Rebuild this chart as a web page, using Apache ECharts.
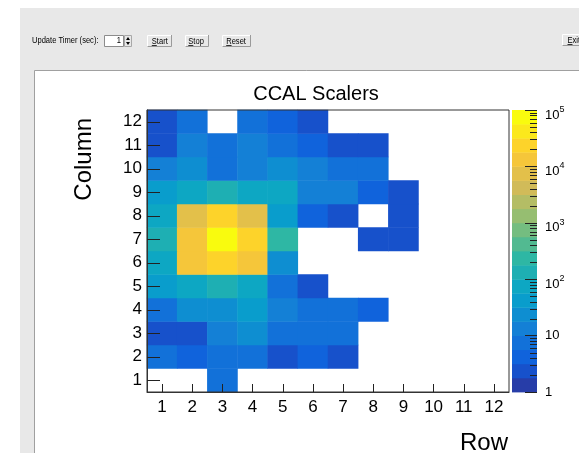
<!DOCTYPE html>
<html>
<head>
<meta charset="utf-8">
<title>CCAL Scalers</title>
<script src="https://cdn.jsdelivr.net/npm/echarts@6/dist/echarts.min.js"></script>
<style>
  html, body { margin: 0; padding: 0; background: #fff; }
  #chart { width: 579px; height: 453px; }
</style>
</head>
<body>
<div id="chart"></div>
<script>
// Axis categories
const rowLabels = ['1', '2', '3', '4', '5', '6', '7', '8', '9', '10', '11', '12'];
const columnLabels = ['1', '2', '3', '4', '5', '6', '7', '8', '9', '10', '11', '12'];

// Scaler counts per column, one entry per row 1..12 (0 = empty bin)
const column1  = [0, 0, 7, 0, 0, 0, 0, 0, 0, 0, 0, 0];
const column2  = [8, 5, 7, 8, 3, 4, 2, 0, 0, 0, 0, 0];
const column3  = [3, 2, 14, 23, 8, 7, 9, 0, 0, 0, 0, 0];
const column4  = [7, 22, 25, 41, 15, 8, 7, 5, 0, 0, 0, 0];
const column5  = [47, 69, 151, 77, 7, 2, 0, 0, 0, 0, 0, 0];
const column6  = [84, 13600, 24800, 12900, 27, 0, 0, 0, 0, 0, 0, 0];
const column7  = [126, 14800, 79000, 22300, 236, 0, 0, 3, 2, 0, 0, 0];
const column8  = [71, 8200, 26500, 7600, 45, 5, 3, 0, 2, 0, 0, 0];
const column9  = [38, 64, 142, 81, 88, 14, 12, 5, 2, 0, 0, 0];
const column10 = [12, 21, 8, 15, 26, 13, 7, 8, 0, 0, 0, 0];
const column11 = [3, 14, 7, 12, 8, 4, 2, 3, 0, 0, 0, 0];
const column12 = [2, 8, 0, 7, 5, 3, 0, 0, 0, 0, 0, 0];

// Colour scale: range and number of contour levels
const zMin = 1;
const zMax = 100000;
const nContours = 20;

// "Bird" palette stops
const birdStops = [0.0000, 0.1250, 0.2500, 0.3750, 0.5000, 0.6250, 0.7500, 0.8750, 1.0000];
const birdRed   = [0.2082, 0.0592, 0.0780, 0.0232, 0.1802, 0.5301, 0.8186, 0.9956, 0.9764];
const birdGreen = [0.1664, 0.3599, 0.5041, 0.6419, 0.7178, 0.7492, 0.7328, 0.7862, 0.9832];
const birdBlue  = [0.5293, 0.8684, 0.8385, 0.7914, 0.6425, 0.4662, 0.3499, 0.1968, 0.0539];

function birdColor(t) {
  let i = 0;
  while (i < birdStops.length - 2 && t > birdStops[i + 1]) i++;
  const f = (t - birdStops[i]) / (birdStops[i + 1] - birdStops[i]);
  const mix = (a) => Math.round(255 * (a[i] + (a[i + 1] - a[i]) * f));
  return 'rgb(' + mix(birdRed) + ',' + mix(birdGreen) + ',' + mix(birdBlue) + ')';
}

// One colour per contour level, picked from a 255-colour gradient table
const logMin = Math.log10(zMin);
const logMax = Math.log10(zMax);
const step = (logMax - logMin) / nContours;
const bands = [];
for (let k = 0; k < nContours; k++) {
  const idx = Math.floor((k + 0.99) * 255 / nContours);
  bands.push({
    lo: Math.pow(10, logMin + k * step),
    hi: Math.pow(10, logMin + (k + 1) * step),
    color: birdColor(Math.min(1, idx / 254))
  });
}

// Log-axis minor tick positions (2..9 in each decade)
const minorTicks = [];
for (let d = zMin; d < zMax; d *= 10) {
  for (let m = 2; m <= 9; m++) minorTicks.push([1, m * d]);
}

const columns = [column1, column2, column3, column4, column5, column6,
                 column7, column8, column9, column10, column11, column12];
const cells = [];
columns.forEach((col, c) => {
  col.forEach((v, r) => { if (v > 0) cells.push([r, c, v]); });
});

const FONT = 'Liberation Sans';
const GUI_BG = '#e8e8e8';

function button(x, y, w, h, label, textX, ulWidth) {
  return [
    { type: 'rect', shape: { x: x, y: y, width: w, height: h }, style: { fill: GUI_BG } },
    { type: 'polyline', shape: { points: [[x + 0.5, y + h], [x + 0.5, y + 0.5], [x + w, y + 0.5]] },
      style: { stroke: '#ffffff', lineWidth: 1, fill: null } },
    { type: 'polyline', shape: { points: [[x + 0.5, y + h - 0.5], [x + w - 0.5, y + h - 0.5], [x + w - 0.5, y]] },
      style: { stroke: '#9a9a9a', lineWidth: 1, fill: null } },
    { type: 'text', x: textX, y: y + h / 2 + 0.5, scaleX: 0.84,
      style: { text: label, fontSize: 9, fontFamily: FONT, fill: '#000', align: 'left', verticalAlign: 'middle' } },
    { type: 'line', shape: { x1: textX, y1: y + h - 1.5, x2: textX + ulWidth, y2: y + h - 1.5 },
      style: { stroke: '#000', lineWidth: 0.8 } }
  ];
}

const guiElements = [
  { type: 'rect', shape: { x: 20, y: 8, width: 559, height: 445 }, style: { fill: GUI_BG } },
  { type: 'rect', shape: { x: 35, y: 71, width: 544, height: 382 }, style: { fill: '#ffffff' } },
  { type: 'line', shape: { x1: 34.5, y1: 70.5, x2: 579, y2: 70.5 }, style: { stroke: '#a0a0a0', lineWidth: 1 } },
  { type: 'line', shape: { x1: 34.5, y1: 70.5, x2: 34.5, y2: 453 }, style: { stroke: '#a0a0a0', lineWidth: 1 } },
  { type: 'text', x: 32, y: 41, scaleX: 0.84,
    style: { text: 'Update Timer (sec):', fontSize: 9, fontFamily: FONT, fill: '#000', verticalAlign: 'middle' } },
  { type: 'rect', shape: { x: 104.5, y: 35.5, width: 19, height: 11 },
    style: { fill: '#ffffff', stroke: '#8c8c8c', lineWidth: 1 } },
  { type: 'text', x: 121, y: 41, scaleX: 0.84,
    style: { text: '1', fontSize: 9, fontFamily: FONT, fill: '#000', align: 'right', verticalAlign: 'middle' } },
  { type: 'rect', shape: { x: 124.5, y: 35.5, width: 7, height: 11 },
    style: { fill: GUI_BG, stroke: '#a8a8a8', lineWidth: 1 } },
  { type: 'polygon', shape: { points: [[128, 37], [126, 40], [130, 40]] }, style: { fill: '#000' } },
  { type: 'polygon', shape: { points: [[126, 42], [130, 42], [128, 45]] }, style: { fill: '#000' } }
]
  .concat(button(147, 35, 25, 12, 'Start', 151.8, 5))
  .concat(button(185, 35, 24, 12, 'Stop', 188.3, 5))
  .concat(button(222, 35, 29, 12, 'Reset', 226.2, 5.4))
  .concat(button(562, 34, 30, 12, 'Exit', 567.5, 5));

// Colour bar labels: plain "1" and "10", then 10 with a raised exponent
function colorbarLabel(v) {
  const e = Math.round(Math.log10(v));
  if (e === 0) return '{p|1}';
  if (e === 1) return '{p|10}';
  return '{e|10}{s|' + e + '}';
}

const option = {
  backgroundColor: '#ffffff',
  animation: false,
  textStyle: { fontFamily: FONT },
  title: {
    text: 'CCAL Scalers',
    left: 311,
    textAlign: 'center',
    top: 79,
    textStyle: { fontSize: 20, fontWeight: 'normal', color: '#000', fontFamily: FONT }
  },
  graphic: { elements: guiElements.concat([
    { type: 'text', x: 84, y: 118, rotation: Math.PI / 2,
      style: { text: 'Column', fontSize: 24, fontFamily: FONT, fill: '#000', align: 'right', verticalAlign: 'middle' } },
    { type: 'text', x: 508, y: 443.5,
      style: { text: 'Row', fontSize: 24, fontFamily: FONT, fill: '#000', align: 'right', verticalAlign: 'middle' } }
  ]) },
  grid: [
    { left: 147, top: 110, width: 362, height: 282, show: true, z: 3,
      borderColor: '#333', borderWidth: 1, backgroundColor: 'transparent' },
    { left: 512, top: 110, width: 25, height: 282 }
  ],
  xAxis: [
    {
      type: 'category', gridIndex: 0, data: rowLabels, z: 4,
      axisLine: { show: true, lineStyle: { color: '#333' } },
      axisTick: { show: true, inside: true, alignWithLabel: true, interval: 0, length: 8, lineStyle: { color: '#222' } },
      axisLabel: { interval: 0, fontSize: 17, color: '#000', margin: 7, fontFamily: FONT },
      splitLine: { show: false }
    },
    { type: 'value', gridIndex: 1, min: 0, max: 1, show: false }
  ],
  yAxis: [
    {
      type: 'category', gridIndex: 0, data: columnLabels, z: 4,
      axisLine: { show: true, lineStyle: { color: '#333' } },
      axisTick: { show: true, inside: true, alignWithLabel: true, interval: 0, length: 13, lineStyle: { color: '#222' } },
      axisLabel: { interval: 0, fontSize: 17, color: '#000', margin: 5, fontFamily: FONT },
      splitLine: { show: false }
    },
    {
      type: 'log', gridIndex: 1, logBase: 10, min: zMin, max: zMax, position: 'right', z: 6,
      axisLine: { show: false, onZero: false },
      axisTick: { show: true, inside: true, length: 12, lineStyle: { color: '#222' } },
      splitLine: { show: false },
      axisLabel: {
        margin: 8, color: '#000', fontFamily: FONT,
        formatter: colorbarLabel,
        rich: {
          p: { fontSize: 13, fontFamily: FONT, color: '#000' },
          e: { fontSize: 13, fontFamily: FONT, color: '#000', padding: [10, 0, 0, 0], verticalAlign: 'top' },
          s: { fontSize: 9, fontFamily: FONT, color: '#000', padding: [6.5, 0, 0, 0], verticalAlign: 'top' }
        }
      }
    }
  ],
  visualMap: {
    type: 'piecewise',
    show: false,
    seriesIndex: 0,
    dimension: 2,
    pieces: bands.map((b, k) => (k === bands.length - 1
      ? { gte: b.lo, lte: b.hi, color: b.color }
      : { gte: b.lo, lt: b.hi, color: b.color }))
  },
  series: [
    {
      name: 'CCAL Scalers',
      type: 'heatmap',
      xAxisIndex: 0, yAxisIndex: 0,
      data: cells,
      emphasis: { disabled: true },
      itemStyle: { borderWidth: 0 }
    },
    {
      name: 'palette',
      type: 'custom',
      xAxisIndex: 1, yAxisIndex: 1,
      silent: true,
      data: bands.map((b, k) => [0, b.lo, b.hi, k]),
      encode: { x: 0, y: [1, 2] },
      renderItem: function (params, api) {
        const b = bands[api.value(3)];
        const p0 = api.coord([0, api.value(2)]);
        const p1 = api.coord([1, api.value(1)]);
        return {
          type: 'rect',
          shape: { x: p0[0], y: p0[1], width: p1[0] - p0[0], height: p1[1] - p0[1] + 0.4 },
          style: { fill: b.color }
        };
      }
    },
    {
      name: 'palette minor ticks',
      type: 'custom',
      xAxisIndex: 1, yAxisIndex: 1,
      silent: true,
      z: 5,
      data: minorTicks,
      encode: { x: 0, y: 1 },
      renderItem: function (params, api) {
        const p = api.coord([1, api.value(1)]);
        const y = Math.round(p[1]) + 0.5;
        return {
          type: 'line',
          shape: { x1: p[0], y1: y, x2: p[0] - 7, y2: y },
          style: { stroke: '#222', lineWidth: 1 }
        };
      }
    }
  ]
};

const chart = echarts.init(document.getElementById('chart'), null, { renderer: 'canvas' });
chart.setOption(option);
</script>
</body>
</html>
